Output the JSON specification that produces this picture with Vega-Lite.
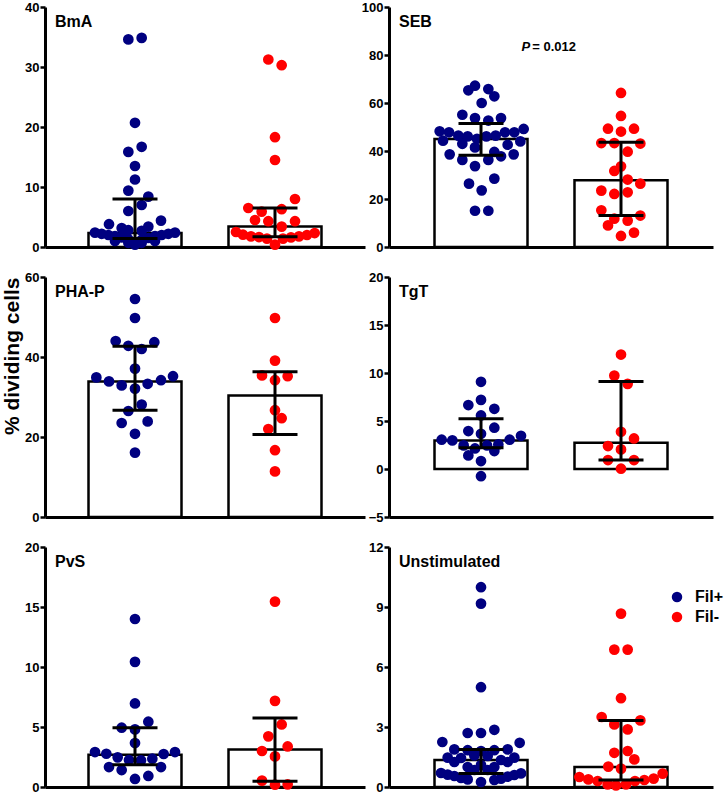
{
  "$schema": "https://vega.github.io/schema/vega-lite/v6.json",
  "padding": {"left": 1, "top": 1, "right": 0, "bottom": 0},
  "background": "white",
  "datasets": {
    "summary": [
      {"stim": "BmA", "group": "Fil+", "median": 2.33, "q1": 1.4, "q3": 8.0},
      {"stim": "BmA", "group": "Fil-", "median": 3.43, "q1": 1.7, "q3": 6.5},
      {"stim": "SEB", "group": "Fil+", "median": 45.0, "q1": 38.2, "q3": 51.5},
      {"stim": "SEB", "group": "Fil-", "median": 27.8, "q1": 13.1, "q3": 43.6},
      {"stim": "PHA-P", "group": "Fil+", "median": 33.9, "q1": 26.7, "q3": 42.7},
      {"stim": "PHA-P", "group": "Fil-", "median": 30.4, "q1": 20.6, "q3": 36.3},
      {"stim": "TgT", "group": "Fil+", "median": 2.97, "q1": 2.21, "q3": 5.23},
      {"stim": "TgT", "group": "Fil-", "median": 2.73, "q1": 0.93, "q3": 9.11},
      {"stim": "PvS", "group": "Fil+", "median": 2.69, "q1": 1.86, "q3": 4.94},
      {"stim": "PvS", "group": "Fil-", "median": 3.13, "q1": 0.47, "q3": 5.74},
      {"stim": "Unstimulated", "group": "Fil+", "median": 1.35, "q1": 0.67, "q3": 1.88},
      {"stim": "Unstimulated", "group": "Fil-", "median": 1.0, "q1": 0.35, "q3": 3.33}
    ],
    "points": [
      {"stim": "BmA", "group": "Fil+", "value": 34.6, "slot": -1},
      {"stim": "BmA", "group": "Fil+", "value": 34.85, "slot": 1},
      {"stim": "BmA", "group": "Fil+", "value": 20.7, "slot": 0},
      {"stim": "BmA", "group": "Fil+", "value": 15.85, "slot": -1},
      {"stim": "BmA", "group": "Fil+", "value": 16.7, "slot": 1},
      {"stim": "BmA", "group": "Fil+", "value": 13.5, "slot": 0},
      {"stim": "BmA", "group": "Fil+", "value": 11.25, "slot": 0},
      {"stim": "BmA", "group": "Fil+", "value": 9.4, "slot": -1},
      {"stim": "BmA", "group": "Fil+", "value": 8.4, "slot": 2},
      {"stim": "BmA", "group": "Fil+", "value": 6.0, "slot": -1},
      {"stim": "BmA", "group": "Fil+", "value": 7.0, "slot": 1},
      {"stim": "BmA", "group": "Fil+", "value": 3.8, "slot": -3.9},
      {"stim": "BmA", "group": "Fil+", "value": 3.15, "slot": -2},
      {"stim": "BmA", "group": "Fil+", "value": 3.4, "slot": 2},
      {"stim": "BmA", "group": "Fil+", "value": 4.4, "slot": 3.9},
      {"stim": "BmA", "group": "Fil+", "value": 2.8, "slot": -1},
      {"stim": "BmA", "group": "Fil+", "value": 2.7, "slot": 1},
      {"stim": "BmA", "group": "Fil+", "value": 2.4, "slot": -6},
      {"stim": "BmA", "group": "Fil+", "value": 2.4, "slot": 6},
      {"stim": "BmA", "group": "Fil+", "value": 2.2, "slot": -5},
      {"stim": "BmA", "group": "Fil+", "value": 2.2, "slot": 5},
      {"stim": "BmA", "group": "Fil+", "value": 2.0, "slot": -4},
      {"stim": "BmA", "group": "Fil+", "value": 2.0, "slot": 4},
      {"stim": "BmA", "group": "Fil+", "value": 1.8, "slot": -3},
      {"stim": "BmA", "group": "Fil+", "value": 1.8, "slot": 3},
      {"stim": "BmA", "group": "Fil+", "value": 1.6, "slot": -2},
      {"stim": "BmA", "group": "Fil+", "value": 1.5, "slot": 2},
      {"stim": "BmA", "group": "Fil+", "value": 1.3, "slot": -1},
      {"stim": "BmA", "group": "Fil+", "value": 1.2, "slot": 1},
      {"stim": "BmA", "group": "Fil+", "value": 1.0, "slot": -3},
      {"stim": "BmA", "group": "Fil+", "value": 1.0, "slot": 3},
      {"stim": "BmA", "group": "Fil+", "value": 0.7, "slot": -1},
      {"stim": "BmA", "group": "Fil+", "value": 0.7, "slot": 1},
      {"stim": "BmA", "group": "Fil+", "value": 0.4, "slot": 0},
      {"stim": "BmA", "group": "Fil-", "value": 31.25, "slot": -1},
      {"stim": "BmA", "group": "Fil-", "value": 30.3, "slot": 1},
      {"stim": "BmA", "group": "Fil-", "value": 18.3, "slot": 0},
      {"stim": "BmA", "group": "Fil-", "value": 14.5, "slot": 0},
      {"stim": "BmA", "group": "Fil-", "value": 8.0, "slot": 3},
      {"stim": "BmA", "group": "Fil-", "value": 6.5, "slot": -4},
      {"stim": "BmA", "group": "Fil-", "value": 5.9, "slot": -2},
      {"stim": "BmA", "group": "Fil-", "value": 6.3, "slot": 1},
      {"stim": "BmA", "group": "Fil-", "value": 4.5, "slot": -3},
      {"stim": "BmA", "group": "Fil-", "value": 4.3, "slot": -1},
      {"stim": "BmA", "group": "Fil-", "value": 4.3, "slot": 3},
      {"stim": "BmA", "group": "Fil-", "value": 3.4, "slot": 1},
      {"stim": "BmA", "group": "Fil-", "value": 2.5, "slot": -5.85},
      {"stim": "BmA", "group": "Fil-", "value": 2.05, "slot": -4.8},
      {"stim": "BmA", "group": "Fil-", "value": 1.77, "slot": -3.6},
      {"stim": "BmA", "group": "Fil-", "value": 1.66, "slot": -2.4},
      {"stim": "BmA", "group": "Fil-", "value": 1.39, "slot": -1.2},
      {"stim": "BmA", "group": "Fil-", "value": 0.39, "slot": 0},
      {"stim": "BmA", "group": "Fil-", "value": 1.39, "slot": 1.2},
      {"stim": "BmA", "group": "Fil-", "value": 1.6, "slot": 2.4},
      {"stim": "BmA", "group": "Fil-", "value": 1.77, "slot": 3.6},
      {"stim": "BmA", "group": "Fil-", "value": 2.0, "slot": 4.8},
      {"stim": "BmA", "group": "Fil-", "value": 2.33, "slot": 5.95},
      {"stim": "SEB", "group": "Fil+", "value": 65.3, "slot": -1.9},
      {"stim": "SEB", "group": "Fil+", "value": 67.2, "slot": -0.9},
      {"stim": "SEB", "group": "Fil+", "value": 65.8, "slot": 1.1},
      {"stim": "SEB", "group": "Fil+", "value": 62.8, "slot": 2},
      {"stim": "SEB", "group": "Fil+", "value": 60.0, "slot": 0.1},
      {"stim": "SEB", "group": "Fil+", "value": 55.1, "slot": -2.8},
      {"stim": "SEB", "group": "Fil+", "value": 53.7, "slot": -0.9},
      {"stim": "SEB", "group": "Fil+", "value": 52.7, "slot": 1.1},
      {"stim": "SEB", "group": "Fil+", "value": 53.7, "slot": 3},
      {"stim": "SEB", "group": "Fil+", "value": 48.2, "slot": -6.2},
      {"stim": "SEB", "group": "Fil+", "value": 47.8, "slot": -4.8},
      {"stim": "SEB", "group": "Fil+", "value": 46.4, "slot": -3.4},
      {"stim": "SEB", "group": "Fil+", "value": 46.1, "slot": -2},
      {"stim": "SEB", "group": "Fil+", "value": 45.1, "slot": -0.6},
      {"stim": "SEB", "group": "Fil+", "value": 46.1, "slot": 0.8},
      {"stim": "SEB", "group": "Fil+", "value": 46.4, "slot": 2.2},
      {"stim": "SEB", "group": "Fil+", "value": 47.8, "slot": 3.6},
      {"stim": "SEB", "group": "Fil+", "value": 47.8, "slot": 5},
      {"stim": "SEB", "group": "Fil+", "value": 49.2, "slot": 6.4},
      {"stim": "SEB", "group": "Fil+", "value": 44.3, "slot": -5.7},
      {"stim": "SEB", "group": "Fil+", "value": 43.0, "slot": -2.8},
      {"stim": "SEB", "group": "Fil+", "value": 41.5, "slot": -0.9},
      {"stim": "SEB", "group": "Fil+", "value": 42.6, "slot": 4},
      {"stim": "SEB", "group": "Fil+", "value": 44.0, "slot": 5.9},
      {"stim": "SEB", "group": "Fil+", "value": 38.6, "slot": -4.7},
      {"stim": "SEB", "group": "Fil+", "value": 36.3, "slot": -2.8},
      {"stim": "SEB", "group": "Fil+", "value": 36.3, "slot": 1.1},
      {"stim": "SEB", "group": "Fil+", "value": 39.6, "slot": 2},
      {"stim": "SEB", "group": "Fil+", "value": 37.8, "slot": 3},
      {"stim": "SEB", "group": "Fil+", "value": 38.6, "slot": 4.9},
      {"stim": "SEB", "group": "Fil+", "value": 33.7, "slot": -0.9},
      {"stim": "SEB", "group": "Fil+", "value": 26.4, "slot": -1.8},
      {"stim": "SEB", "group": "Fil+", "value": 28.5, "slot": 2},
      {"stim": "SEB", "group": "Fil+", "value": 23.6, "slot": 0.1},
      {"stim": "SEB", "group": "Fil+", "value": 15.1, "slot": -0.9},
      {"stim": "SEB", "group": "Fil+", "value": 15.1, "slot": 1.1},
      {"stim": "SEB", "group": "Fil-", "value": 64.2, "slot": 0},
      {"stim": "SEB", "group": "Fil-", "value": 54.6, "slot": 0},
      {"stim": "SEB", "group": "Fil-", "value": 49.3, "slot": -1.95},
      {"stim": "SEB", "group": "Fil-", "value": 48.1, "slot": 0},
      {"stim": "SEB", "group": "Fil-", "value": 49.3, "slot": 1.95},
      {"stim": "SEB", "group": "Fil-", "value": 43.3, "slot": -2.95},
      {"stim": "SEB", "group": "Fil-", "value": 43.3, "slot": -1},
      {"stim": "SEB", "group": "Fil-", "value": 43.1, "slot": 2.9},
      {"stim": "SEB", "group": "Fil-", "value": 39.7, "slot": 1},
      {"stim": "SEB", "group": "Fil-", "value": 33.6, "slot": 0},
      {"stim": "SEB", "group": "Fil-", "value": 31.7, "slot": -1},
      {"stim": "SEB", "group": "Fil-", "value": 28.1, "slot": 1},
      {"stim": "SEB", "group": "Fil-", "value": 26.4, "slot": 2.9},
      {"stim": "SEB", "group": "Fil-", "value": 23.5, "slot": -2.95},
      {"stim": "SEB", "group": "Fil-", "value": 22.1, "slot": -1},
      {"stim": "SEB", "group": "Fil-", "value": 22.8, "slot": 1},
      {"stim": "SEB", "group": "Fil-", "value": 15.3, "slot": -2.95},
      {"stim": "SEB", "group": "Fil-", "value": 11.8, "slot": -1},
      {"stim": "SEB", "group": "Fil-", "value": 11.0, "slot": 1},
      {"stim": "SEB", "group": "Fil-", "value": 13.1, "slot": 2.9},
      {"stim": "SEB", "group": "Fil-", "value": 9.0, "slot": -1.95},
      {"stim": "SEB", "group": "Fil-", "value": 6.0, "slot": 1.95},
      {"stim": "SEB", "group": "Fil-", "value": 4.6, "slot": 0},
      {"stim": "PHA-P", "group": "Fil+", "value": 54.5, "slot": 0},
      {"stim": "PHA-P", "group": "Fil+", "value": 49.75, "slot": 0},
      {"stim": "PHA-P", "group": "Fil+", "value": 44.0, "slot": -2.9},
      {"stim": "PHA-P", "group": "Fil+", "value": 42.8, "slot": -1},
      {"stim": "PHA-P", "group": "Fil+", "value": 42.0, "slot": 1},
      {"stim": "PHA-P", "group": "Fil+", "value": 43.7, "slot": 2.9},
      {"stim": "PHA-P", "group": "Fil+", "value": 37.1, "slot": 0},
      {"stim": "PHA-P", "group": "Fil+", "value": 34.9, "slot": -5.8},
      {"stim": "PHA-P", "group": "Fil+", "value": 33.9, "slot": -3.9},
      {"stim": "PHA-P", "group": "Fil+", "value": 32.9, "slot": -2},
      {"stim": "PHA-P", "group": "Fil+", "value": 32.1, "slot": 0},
      {"stim": "PHA-P", "group": "Fil+", "value": 33.3, "slot": 1.9},
      {"stim": "PHA-P", "group": "Fil+", "value": 34.2, "slot": 3.9},
      {"stim": "PHA-P", "group": "Fil+", "value": 35.2, "slot": 5.7},
      {"stim": "PHA-P", "group": "Fil+", "value": 28.1, "slot": 1},
      {"stim": "PHA-P", "group": "Fil+", "value": 26.5, "slot": -1},
      {"stim": "PHA-P", "group": "Fil+", "value": 23.5, "slot": -2},
      {"stim": "PHA-P", "group": "Fil+", "value": 23.9, "slot": 1.9},
      {"stim": "PHA-P", "group": "Fil+", "value": 20.8, "slot": 0},
      {"stim": "PHA-P", "group": "Fil+", "value": 16.1, "slot": 0},
      {"stim": "PHA-P", "group": "Fil-", "value": 49.75, "slot": 0},
      {"stim": "PHA-P", "group": "Fil-", "value": 39.1, "slot": 0},
      {"stim": "PHA-P", "group": "Fil-", "value": 35.4, "slot": -1.95},
      {"stim": "PHA-P", "group": "Fil-", "value": 34.2, "slot": 0},
      {"stim": "PHA-P", "group": "Fil-", "value": 35.2, "slot": 1.9},
      {"stim": "PHA-P", "group": "Fil-", "value": 26.7, "slot": 0},
      {"stim": "PHA-P", "group": "Fil-", "value": 24.7, "slot": 1},
      {"stim": "PHA-P", "group": "Fil-", "value": 22.0, "slot": -1},
      {"stim": "PHA-P", "group": "Fil-", "value": 16.7, "slot": 0},
      {"stim": "PHA-P", "group": "Fil-", "value": 11.4, "slot": 0},
      {"stim": "TgT", "group": "Fil+", "value": 9.08, "slot": 0},
      {"stim": "TgT", "group": "Fil+", "value": 7.2, "slot": 0},
      {"stim": "TgT", "group": "Fil+", "value": 6.66, "slot": -1.9},
      {"stim": "TgT", "group": "Fil+", "value": 6.27, "slot": 2},
      {"stim": "TgT", "group": "Fil+", "value": 5.58, "slot": 0},
      {"stim": "TgT", "group": "Fil+", "value": 3.95, "slot": -1.9},
      {"stim": "TgT", "group": "Fil+", "value": 3.67, "slot": 0},
      {"stim": "TgT", "group": "Fil+", "value": 4.3, "slot": 2},
      {"stim": "TgT", "group": "Fil+", "value": 3.05, "slot": -5.9},
      {"stim": "TgT", "group": "Fil+", "value": 2.98, "slot": -4.3},
      {"stim": "TgT", "group": "Fil+", "value": 2.46, "slot": -2.6},
      {"stim": "TgT", "group": "Fil+", "value": 2.14, "slot": -0.9},
      {"stim": "TgT", "group": "Fil+", "value": 2.46, "slot": 0.9},
      {"stim": "TgT", "group": "Fil+", "value": 2.56, "slot": 2.6},
      {"stim": "TgT", "group": "Fil+", "value": 3.05, "slot": 4.3},
      {"stim": "TgT", "group": "Fil+", "value": 3.46, "slot": 6},
      {"stim": "TgT", "group": "Fil+", "value": 1.41, "slot": -1.9},
      {"stim": "TgT", "group": "Fil+", "value": 1.87, "slot": 2},
      {"stim": "TgT", "group": "Fil+", "value": 0.83, "slot": 0},
      {"stim": "TgT", "group": "Fil+", "value": -0.75, "slot": 0},
      {"stim": "TgT", "group": "Fil-", "value": 11.92, "slot": 0},
      {"stim": "TgT", "group": "Fil-", "value": 9.73, "slot": -1},
      {"stim": "TgT", "group": "Fil-", "value": 8.87, "slot": 1},
      {"stim": "TgT", "group": "Fil-", "value": 3.88, "slot": 0},
      {"stim": "TgT", "group": "Fil-", "value": 3.18, "slot": 1.95},
      {"stim": "TgT", "group": "Fil-", "value": 2.39, "slot": -1.95},
      {"stim": "TgT", "group": "Fil-", "value": 2.04, "slot": 0},
      {"stim": "TgT", "group": "Fil-", "value": 0.93, "slot": -1.95},
      {"stim": "TgT", "group": "Fil-", "value": 0.93, "slot": 1.95},
      {"stim": "TgT", "group": "Fil-", "value": 0.03, "slot": 0},
      {"stim": "PvS", "group": "Fil+", "value": 14.0, "slot": 0},
      {"stim": "PvS", "group": "Fil+", "value": 10.43, "slot": 0},
      {"stim": "PvS", "group": "Fil+", "value": 6.96, "slot": 0},
      {"stim": "PvS", "group": "Fil+", "value": 4.94, "slot": -2},
      {"stim": "PvS", "group": "Fil+", "value": 4.8, "slot": 0},
      {"stim": "PvS", "group": "Fil+", "value": 5.44, "slot": 2},
      {"stim": "PvS", "group": "Fil+", "value": 3.66, "slot": 0},
      {"stim": "PvS", "group": "Fil+", "value": 2.91, "slot": -6},
      {"stim": "PvS", "group": "Fil+", "value": 2.77, "slot": -4.3},
      {"stim": "PvS", "group": "Fil+", "value": 2.47, "slot": -2.6},
      {"stim": "PvS", "group": "Fil+", "value": 2.25, "slot": -0.9},
      {"stim": "PvS", "group": "Fil+", "value": 2.22, "slot": 0.9},
      {"stim": "PvS", "group": "Fil+", "value": 2.36, "slot": 2.6},
      {"stim": "PvS", "group": "Fil+", "value": 2.75, "slot": 4.3},
      {"stim": "PvS", "group": "Fil+", "value": 2.91, "slot": 6},
      {"stim": "PvS", "group": "Fil+", "value": 1.66, "slot": -3.9},
      {"stim": "PvS", "group": "Fil+", "value": 1.41, "slot": -2},
      {"stim": "PvS", "group": "Fil+", "value": 1.66, "slot": 3.9},
      {"stim": "PvS", "group": "Fil+", "value": 0.67, "slot": 0},
      {"stim": "PvS", "group": "Fil+", "value": 0.92, "slot": 2},
      {"stim": "PvS", "group": "Fil-", "value": 15.45, "slot": 0},
      {"stim": "PvS", "group": "Fil-", "value": 7.18, "slot": 0},
      {"stim": "PvS", "group": "Fil-", "value": 5.21, "slot": 1},
      {"stim": "PvS", "group": "Fil-", "value": 4.22, "slot": -1},
      {"stim": "PvS", "group": "Fil-", "value": 3.38, "slot": 1.9},
      {"stim": "PvS", "group": "Fil-", "value": 3.0, "slot": -1.95},
      {"stim": "PvS", "group": "Fil-", "value": 2.55, "slot": 0},
      {"stim": "PvS", "group": "Fil-", "value": 0.53, "slot": -1.95},
      {"stim": "PvS", "group": "Fil-", "value": 0.19, "slot": 0},
      {"stim": "PvS", "group": "Fil-", "value": 0.22, "slot": 1.9},
      {"stim": "Unstimulated", "group": "Fil+", "value": 9.99, "slot": 0},
      {"stim": "Unstimulated", "group": "Fil+", "value": 9.17, "slot": 0},
      {"stim": "Unstimulated", "group": "Fil+", "value": 4.99, "slot": 0},
      {"stim": "Unstimulated", "group": "Fil+", "value": 2.86, "slot": 2},
      {"stim": "Unstimulated", "group": "Fil+", "value": 2.7, "slot": -2},
      {"stim": "Unstimulated", "group": "Fil+", "value": 2.7, "slot": 0},
      {"stim": "Unstimulated", "group": "Fil+", "value": 2.25, "slot": -5.8},
      {"stim": "Unstimulated", "group": "Fil+", "value": 2.21, "slot": 5.8},
      {"stim": "Unstimulated", "group": "Fil+", "value": 1.88, "slot": -4},
      {"stim": "Unstimulated", "group": "Fil+", "value": 1.88, "slot": 4},
      {"stim": "Unstimulated", "group": "Fil+", "value": 1.84, "slot": -2},
      {"stim": "Unstimulated", "group": "Fil+", "value": 1.84, "slot": 2},
      {"stim": "Unstimulated", "group": "Fil+", "value": 1.8, "slot": 0},
      {"stim": "Unstimulated", "group": "Fil+", "value": 1.58, "slot": -1},
      {"stim": "Unstimulated", "group": "Fil+", "value": 1.55, "slot": 1},
      {"stim": "Unstimulated", "group": "Fil+", "value": 1.47, "slot": -5},
      {"stim": "Unstimulated", "group": "Fil+", "value": 1.47, "slot": 5},
      {"stim": "Unstimulated", "group": "Fil+", "value": 1.45, "slot": -3},
      {"stim": "Unstimulated", "group": "Fil+", "value": 1.35, "slot": 3},
      {"stim": "Unstimulated", "group": "Fil+", "value": 1.25, "slot": -4},
      {"stim": "Unstimulated", "group": "Fil+", "value": 1.25, "slot": 4},
      {"stim": "Unstimulated", "group": "Fil+", "value": 1.1, "slot": 0},
      {"stim": "Unstimulated", "group": "Fil+", "value": 1.0, "slot": -2},
      {"stim": "Unstimulated", "group": "Fil+", "value": 1.0, "slot": 2},
      {"stim": "Unstimulated", "group": "Fil+", "value": 0.85, "slot": -1},
      {"stim": "Unstimulated", "group": "Fil+", "value": 0.85, "slot": 1},
      {"stim": "Unstimulated", "group": "Fil+", "value": 0.7, "slot": -6},
      {"stim": "Unstimulated", "group": "Fil+", "value": 0.68, "slot": 6},
      {"stim": "Unstimulated", "group": "Fil+", "value": 0.62, "slot": -5},
      {"stim": "Unstimulated", "group": "Fil+", "value": 0.6, "slot": 5},
      {"stim": "Unstimulated", "group": "Fil+", "value": 0.55, "slot": -4},
      {"stim": "Unstimulated", "group": "Fil+", "value": 0.52, "slot": 4},
      {"stim": "Unstimulated", "group": "Fil+", "value": 0.45, "slot": -3},
      {"stim": "Unstimulated", "group": "Fil+", "value": 0.42, "slot": 3},
      {"stim": "Unstimulated", "group": "Fil+", "value": 0.38, "slot": -2},
      {"stim": "Unstimulated", "group": "Fil+", "value": 0.35, "slot": 2},
      {"stim": "Unstimulated", "group": "Fil+", "value": 0.25, "slot": 0},
      {"stim": "Unstimulated", "group": "Fil-", "value": 8.67, "slot": 0},
      {"stim": "Unstimulated", "group": "Fil-", "value": 6.87, "slot": -1},
      {"stim": "Unstimulated", "group": "Fil-", "value": 6.87, "slot": 1},
      {"stim": "Unstimulated", "group": "Fil-", "value": 4.44, "slot": 0},
      {"stim": "Unstimulated", "group": "Fil-", "value": 3.5, "slot": -2.9},
      {"stim": "Unstimulated", "group": "Fil-", "value": 3.33, "slot": 2.9},
      {"stim": "Unstimulated", "group": "Fil-", "value": 3.13, "slot": -1},
      {"stim": "Unstimulated", "group": "Fil-", "value": 2.88, "slot": 1},
      {"stim": "Unstimulated", "group": "Fil-", "value": 1.71, "slot": -1},
      {"stim": "Unstimulated", "group": "Fil-", "value": 1.8, "slot": 1},
      {"stim": "Unstimulated", "group": "Fil-", "value": 1.38, "slot": 2},
      {"stim": "Unstimulated", "group": "Fil-", "value": 1.02, "slot": -1.9},
      {"stim": "Unstimulated", "group": "Fil-", "value": 0.92, "slot": 0},
      {"stim": "Unstimulated", "group": "Fil-", "value": 0.5, "slot": -6.25},
      {"stim": "Unstimulated", "group": "Fil-", "value": 0.38, "slot": -4.9},
      {"stim": "Unstimulated", "group": "Fil-", "value": 0.3, "slot": -3.5},
      {"stim": "Unstimulated", "group": "Fil-", "value": 0.13, "slot": -2},
      {"stim": "Unstimulated", "group": "Fil-", "value": 0.08, "slot": -0.75},
      {"stim": "Unstimulated", "group": "Fil-", "value": 0.13, "slot": 0.75},
      {"stim": "Unstimulated", "group": "Fil-", "value": 0.3, "slot": 2.1},
      {"stim": "Unstimulated", "group": "Fil-", "value": 0.35, "slot": 3.5},
      {"stim": "Unstimulated", "group": "Fil-", "value": 0.42, "slot": 4.9},
      {"stim": "Unstimulated", "group": "Fil-", "value": 0.67, "slot": 6.25}
    ]
  },
  "concat": [
    {
      "width": 320, "height": 240, "title": "BmA",
      "layer": [
        {"data": {"name": "summary"}, "transform": [{"filter": "datum.stim === 'BmA'"}],
         "mark": {"type": "bar", "fill": "white", "stroke": "black", "strokeWidth": 2.5, "width": 93},
         "encoding": {"x": {"field": "group", "type": "nominal", "title": null, "scale": {"domain": ["Fil+", "Fil-"], "paddingInner": 0.0476, "paddingOuter": 0.1667}, "axis": {"labels": false, "ticks": false}},
                      "y": {"field": "median", "type": "quantitative", "title": null, "scale": {"domain": [0, 40], "nice": false}, "axis": {"values": [0, 10, 20, 30, 40]}}}},
        {"data": {"name": "points"}, "transform": [{"filter": "datum.stim === 'BmA'"}],
         "mark": {"type": "circle", "size": 115, "opacity": 1},
         "encoding": {"x": {"field": "group", "type": "nominal", "title": null},
                      "xOffset": {"field": "slot", "type": "quantitative", "scale": {"domain": [-10, 10]}},
                      "y": {"field": "value", "type": "quantitative", "title": null},
                      "color": {"field": "group", "type": "nominal", "scale": {"domain": ["Fil+", "Fil-"], "range": ["#000080", "#ff0000"]}, "legend": null}}},
        {"data": {"name": "summary"}, "transform": [{"filter": "datum.stim === 'BmA'"}],
         "mark": {"type": "rule", "strokeWidth": 3, "color": "black"},
         "encoding": {"x": {"field": "group", "type": "nominal", "title": null}, "y": {"field": "q1", "type": "quantitative", "title": null}, "y2": {"field": "q3"}}},
        {"data": {"name": "summary"}, "transform": [{"filter": "datum.stim === 'BmA'"}],
         "mark": {"type": "tick", "thickness": 3, "size": 45, "color": "black", "opacity": 1},
         "encoding": {"x": {"field": "group", "type": "nominal", "title": null}, "y": {"field": "q1", "type": "quantitative", "title": null}}},
        {"data": {"name": "summary"}, "transform": [{"filter": "datum.stim === 'BmA'"}],
         "mark": {"type": "tick", "thickness": 3, "size": 45, "color": "black", "opacity": 1},
         "encoding": {"x": {"field": "group", "type": "nominal", "title": null}, "y": {"field": "q3", "type": "quantitative", "title": null}}}
      ]
    },
    {
      "width": 324, "height": 240, "title": "SEB",
      "layer": [
        {"data": {"name": "summary"}, "transform": [{"filter": "datum.stim === 'SEB'"}],
         "mark": {"type": "bar", "fill": "white", "stroke": "black", "strokeWidth": 2.5, "width": 93},
         "encoding": {"x": {"field": "group", "type": "nominal", "title": null, "scale": {"domain": ["Fil+", "Fil-"], "paddingInner": 0.0476, "paddingOuter": 0.181}, "axis": {"labels": false, "ticks": false}},
                      "y": {"field": "median", "type": "quantitative", "title": null, "scale": {"domain": [0, 100], "nice": false}, "axis": {"values": [0, 20, 40, 60, 80, 100]}}}},
        {"data": {"name": "points"}, "transform": [{"filter": "datum.stim === 'SEB'"}],
         "mark": {"type": "circle", "size": 115, "opacity": 1},
         "encoding": {"x": {"field": "group", "type": "nominal", "title": null},
                      "xOffset": {"field": "slot", "type": "quantitative", "scale": {"domain": [-10, 10]}},
                      "y": {"field": "value", "type": "quantitative", "title": null},
                      "color": {"field": "group", "type": "nominal", "legend": null}}},
        {"data": {"name": "summary"}, "transform": [{"filter": "datum.stim === 'SEB'"}],
         "mark": {"type": "rule", "strokeWidth": 3, "color": "black"},
         "encoding": {"x": {"field": "group", "type": "nominal", "title": null}, "y": {"field": "q1", "type": "quantitative", "title": null}, "y2": {"field": "q3"}}},
        {"data": {"name": "summary"}, "transform": [{"filter": "datum.stim === 'SEB'"}],
         "mark": {"type": "tick", "thickness": 3, "size": 45, "color": "black", "opacity": 1},
         "encoding": {"x": {"field": "group", "type": "nominal", "title": null}, "y": {"field": "q1", "type": "quantitative", "title": null}}},
        {"data": {"name": "summary"}, "transform": [{"filter": "datum.stim === 'SEB'"}],
         "mark": {"type": "tick", "thickness": 3, "size": 45, "color": "black", "opacity": 1},
         "encoding": {"x": {"field": "group", "type": "nominal", "title": null}, "y": {"field": "q3", "type": "quantitative", "title": null}}},
        {"data": {"values": [{"label": "P"}]},
         "mark": {"type": "text", "font": "Liberation Sans", "fontSize": 13, "fontWeight": "bold", "fontStyle": "italic", "align": "left", "baseline": "alphabetic", "color": "black"},
         "encoding": {"x": {"datum": "Fil+", "type": "nominal"}, "xOffset": {"datum": 6.07, "type": "quantitative"}, "y": {"datum": 81.8, "type": "quantitative"}, "text": {"field": "label"}}},
        {"data": {"values": [{"label": "= 0.012"}]},
         "mark": {"type": "text", "font": "Liberation Sans", "fontSize": 13, "fontWeight": "bold", "align": "left", "baseline": "alphabetic", "color": "black"},
         "encoding": {"x": {"datum": "Fil+", "type": "nominal"}, "xOffset": {"datum": 7.68, "type": "quantitative"}, "y": {"datum": 81.8, "type": "quantitative"}, "text": {"field": "label"}}}
      ]
    },
    {
      "width": 320, "height": 240, "title": "PHA-P",
      "layer": [
        {"data": {"name": "summary"}, "transform": [{"filter": "datum.stim === 'PHA-P'"}],
         "mark": {"type": "bar", "fill": "white", "stroke": "black", "strokeWidth": 2.5, "width": 93},
         "encoding": {"x": {"field": "group", "type": "nominal", "title": null, "scale": {"domain": ["Fil+", "Fil-"], "paddingInner": 0.0476, "paddingOuter": 0.1667}, "axis": {"labels": false, "ticks": false}},
                      "y": {"field": "median", "type": "quantitative", "title": "% dividing cells", "scale": {"domain": [0, 60], "nice": false}, "axis": {"values": [0, 20, 40, 60], "title": "% dividing cells", "titleAnchor": "end", "titlePadding": 2, "titleFontSize": 21}}}},
        {"data": {"name": "points"}, "transform": [{"filter": "datum.stim === 'PHA-P'"}],
         "mark": {"type": "circle", "size": 115, "opacity": 1},
         "encoding": {"x": {"field": "group", "type": "nominal", "title": null},
                      "xOffset": {"field": "slot", "type": "quantitative", "scale": {"domain": [-10, 10]}},
                      "y": {"field": "value", "type": "quantitative", "title": "% dividing cells"},
                      "color": {"field": "group", "type": "nominal", "legend": null}}},
        {"data": {"name": "summary"}, "transform": [{"filter": "datum.stim === 'PHA-P'"}],
         "mark": {"type": "rule", "strokeWidth": 3, "color": "black"},
         "encoding": {"x": {"field": "group", "type": "nominal", "title": null}, "y": {"field": "q1", "type": "quantitative", "title": "% dividing cells"}, "y2": {"field": "q3"}}},
        {"data": {"name": "summary"}, "transform": [{"filter": "datum.stim === 'PHA-P'"}],
         "mark": {"type": "tick", "thickness": 3, "size": 45, "color": "black", "opacity": 1},
         "encoding": {"x": {"field": "group", "type": "nominal", "title": null}, "y": {"field": "q1", "type": "quantitative", "title": "% dividing cells"}}},
        {"data": {"name": "summary"}, "transform": [{"filter": "datum.stim === 'PHA-P'"}],
         "mark": {"type": "tick", "thickness": 3, "size": 45, "color": "black", "opacity": 1},
         "encoding": {"x": {"field": "group", "type": "nominal", "title": null}, "y": {"field": "q3", "type": "quantitative", "title": "% dividing cells"}}}
      ]
    },
    {
      "width": 324, "height": 240, "title": "TgT",
      "layer": [
        {"data": {"name": "summary"}, "transform": [{"filter": "datum.stim === 'TgT'"}],
         "mark": {"type": "bar", "fill": "white", "stroke": "black", "strokeWidth": 2.5, "width": 93},
         "encoding": {"x": {"field": "group", "type": "nominal", "title": null, "scale": {"domain": ["Fil+", "Fil-"], "paddingInner": 0.0476, "paddingOuter": 0.181}, "axis": {"labels": false, "ticks": false}},
                      "y": {"field": "median", "type": "quantitative", "title": null, "scale": {"domain": [-5, 20], "nice": false}, "axis": {"values": [-5, 0, 5, 10, 15, 20]}}}},
        {"mark": {"type": "rule", "strokeWidth": 3, "color": "black"}, "encoding": {"y": {"datum": 0, "type": "quantitative"}}},
        {"data": {"name": "points"}, "transform": [{"filter": "datum.stim === 'TgT'"}],
         "mark": {"type": "circle", "size": 115, "opacity": 1},
         "encoding": {"x": {"field": "group", "type": "nominal", "title": null},
                      "xOffset": {"field": "slot", "type": "quantitative", "scale": {"domain": [-10, 10]}},
                      "y": {"field": "value", "type": "quantitative", "title": null},
                      "color": {"field": "group", "type": "nominal", "legend": null}}},
        {"data": {"name": "summary"}, "transform": [{"filter": "datum.stim === 'TgT'"}],
         "mark": {"type": "rule", "strokeWidth": 3, "color": "black"},
         "encoding": {"x": {"field": "group", "type": "nominal", "title": null}, "y": {"field": "q1", "type": "quantitative", "title": null}, "y2": {"field": "q3"}}},
        {"data": {"name": "summary"}, "transform": [{"filter": "datum.stim === 'TgT'"}],
         "mark": {"type": "tick", "thickness": 3, "size": 45, "color": "black", "opacity": 1},
         "encoding": {"x": {"field": "group", "type": "nominal", "title": null}, "y": {"field": "q1", "type": "quantitative", "title": null}}},
        {"data": {"name": "summary"}, "transform": [{"filter": "datum.stim === 'TgT'"}],
         "mark": {"type": "tick", "thickness": 3, "size": 45, "color": "black", "opacity": 1},
         "encoding": {"x": {"field": "group", "type": "nominal", "title": null}, "y": {"field": "q3", "type": "quantitative", "title": null}}}
      ]
    },
    {
      "width": 320, "height": 240, "title": "PvS",
      "layer": [
        {"data": {"name": "summary"}, "transform": [{"filter": "datum.stim === 'PvS'"}],
         "mark": {"type": "bar", "fill": "white", "stroke": "black", "strokeWidth": 2.5, "width": 93},
         "encoding": {"x": {"field": "group", "type": "nominal", "title": null, "scale": {"domain": ["Fil+", "Fil-"], "paddingInner": 0.0476, "paddingOuter": 0.1667}, "axis": {"labels": false, "ticks": false}},
                      "y": {"field": "median", "type": "quantitative", "title": null, "scale": {"domain": [0, 20], "nice": false}, "axis": {"values": [0, 5, 10, 15, 20]}}}},
        {"data": {"name": "points"}, "transform": [{"filter": "datum.stim === 'PvS'"}],
         "mark": {"type": "circle", "size": 115, "opacity": 1},
         "encoding": {"x": {"field": "group", "type": "nominal", "title": null},
                      "xOffset": {"field": "slot", "type": "quantitative", "scale": {"domain": [-10, 10]}},
                      "y": {"field": "value", "type": "quantitative", "title": null},
                      "color": {"field": "group", "type": "nominal", "legend": null}}},
        {"data": {"name": "summary"}, "transform": [{"filter": "datum.stim === 'PvS'"}],
         "mark": {"type": "rule", "strokeWidth": 3, "color": "black"},
         "encoding": {"x": {"field": "group", "type": "nominal", "title": null}, "y": {"field": "q1", "type": "quantitative", "title": null}, "y2": {"field": "q3"}}},
        {"data": {"name": "summary"}, "transform": [{"filter": "datum.stim === 'PvS'"}],
         "mark": {"type": "tick", "thickness": 3, "size": 45, "color": "black", "opacity": 1},
         "encoding": {"x": {"field": "group", "type": "nominal", "title": null}, "y": {"field": "q1", "type": "quantitative", "title": null}}},
        {"data": {"name": "summary"}, "transform": [{"filter": "datum.stim === 'PvS'"}],
         "mark": {"type": "tick", "thickness": 3, "size": 45, "color": "black", "opacity": 1},
         "encoding": {"x": {"field": "group", "type": "nominal", "title": null}, "y": {"field": "q3", "type": "quantitative", "title": null}}}
      ]
    },
    {
      "width": 324, "height": 240, "title": "Unstimulated",
      "layer": [
        {"data": {"name": "summary"}, "transform": [{"filter": "datum.stim === 'Unstimulated'"}],
         "mark": {"type": "bar", "fill": "white", "stroke": "black", "strokeWidth": 2.5, "width": 93},
         "encoding": {"x": {"field": "group", "type": "nominal", "title": null, "scale": {"domain": ["Fil+", "Fil-"], "paddingInner": 0.0476, "paddingOuter": 0.181}, "axis": {"labels": false, "ticks": false}},
                      "y": {"field": "median", "type": "quantitative", "title": null, "scale": {"domain": [0, 12], "nice": false}, "axis": {"values": [0, 3, 6, 9, 12]}}}},
        {"data": {"name": "points"}, "transform": [{"filter": "datum.stim === 'Unstimulated'"}],
         "mark": {"type": "circle", "size": 115, "opacity": 1},
         "encoding": {"x": {"field": "group", "type": "nominal", "title": null},
                      "xOffset": {"field": "slot", "type": "quantitative", "scale": {"domain": [-10, 10]}},
                      "y": {"field": "value", "type": "quantitative", "title": null},
                      "color": {"field": "group", "type": "nominal",
                                "legend": {"title": null, "orient": "none", "legendX": 280, "legendY": 42, "symbolType": "circle", "symbolSize": 110, "symbolStrokeWidth": 0, "labelFontSize": 16, "labelFont": "Liberation Sans", "labelFontWeight": "bold", "labelColor": "black", "labelOffset": 10, "rowPadding": 4, "padding": 0}}}},
        {"data": {"name": "summary"}, "transform": [{"filter": "datum.stim === 'Unstimulated'"}],
         "mark": {"type": "rule", "strokeWidth": 3, "color": "black"},
         "encoding": {"x": {"field": "group", "type": "nominal", "title": null}, "y": {"field": "q1", "type": "quantitative", "title": null}, "y2": {"field": "q3"}}},
        {"data": {"name": "summary"}, "transform": [{"filter": "datum.stim === 'Unstimulated'"}],
         "mark": {"type": "tick", "thickness": 3, "size": 45, "color": "black", "opacity": 1},
         "encoding": {"x": {"field": "group", "type": "nominal", "title": null}, "y": {"field": "q1", "type": "quantitative", "title": null}}},
        {"data": {"name": "summary"}, "transform": [{"filter": "datum.stim === 'Unstimulated'"}],
         "mark": {"type": "tick", "thickness": 3, "size": 45, "color": "black", "opacity": 1},
         "encoding": {"x": {"field": "group", "type": "nominal", "title": null}, "y": {"field": "q3", "type": "quantitative", "title": null}}}
      ]
    }
  ],
  "columns": 2,
  "spacing": {"row": 30, "column": 24},
  "bounds": "flush",
  "align": "each",
  "resolve": {"legend": {"color": "independent"}},
  "config": {
    "view": {"stroke": null},
    "font": "Liberation Sans",
    "axis": {"domainColor": "black", "domainWidth": 3, "tickColor": "black", "tickWidth": 2.5, "tickSize": 5, "labelColor": "black", "labelFont": "Liberation Sans", "labelFontSize": 13, "labelFontWeight": "bold", "labelPadding": 1, "grid": false, "titleColor": "black", "titleFont": "Liberation Sans", "titleFontWeight": "bold", "titleFontSize": 20},
    "title": {"anchor": "start", "fontSize": 16, "font": "Liberation Sans", "fontWeight": "bold", "color": "black", "offset": -28.5, "dx": 10, "frame": "group", "baseline": "alphabetic"}
  }
}
